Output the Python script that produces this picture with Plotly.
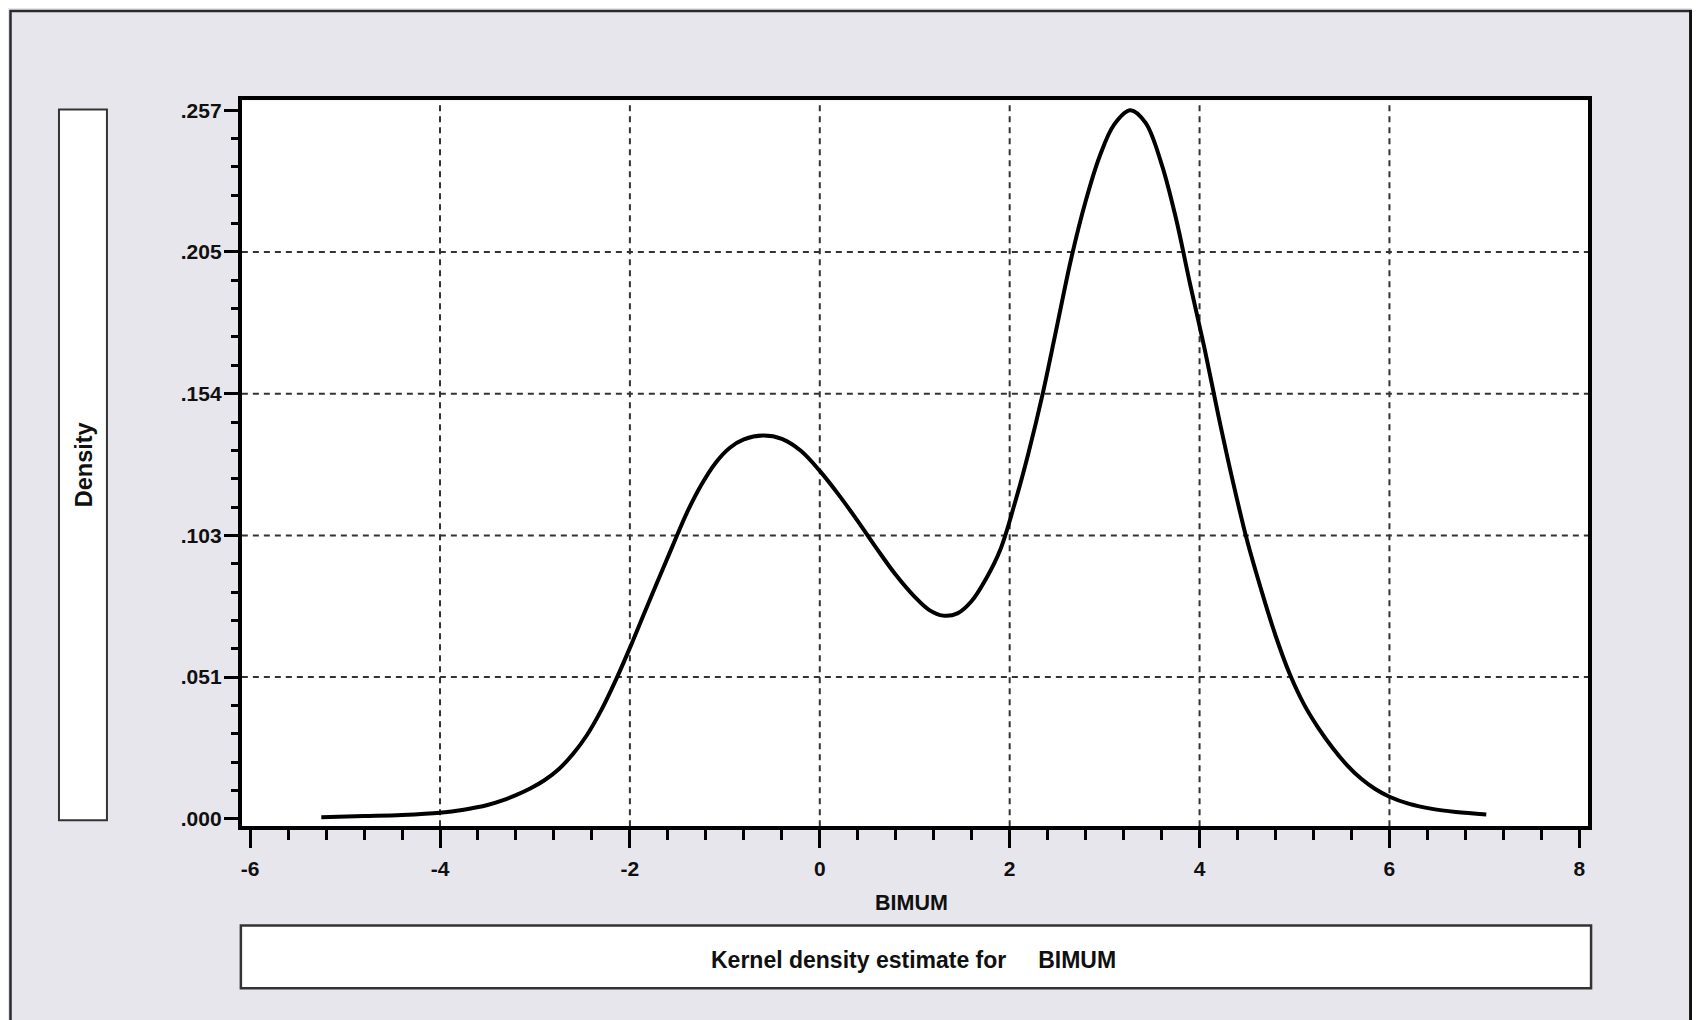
import plotly.graph_objects as go

# ---------------- data ----------------
x_vals = [-5.25, -4.8, -4.4, -4.0, -3.75, -3.5, -3.35, -3.2, -3.05, -2.9,
          -2.75, -2.6, -2.45, -2.3, -2.15, -2.0, -1.85, -1.7, -1.55, -1.4,
          -1.25, -1.1, -0.95, -0.8, -0.6, -0.4, -0.2, 0.0, 0.2, 0.4,
          0.6, 0.8, 1.0, 1.15, 1.3, 1.45, 1.6, 1.75, 1.9, 2.05,
          2.2, 2.35, 2.5, 2.65, 2.8, 2.95, 3.1, 3.27, 3.43, 3.6,
          3.75, 3.9, 4.05, 4.2, 4.35, 4.5, 4.65, 4.8, 4.95, 5.1,
          5.25, 5.4, 5.55, 5.7, 5.85, 6.0, 6.2, 6.45, 6.7, 7.02]
density = [0.0006, 0.0010, 0.0014, 0.0022, 0.0033, 0.0050, 0.0066, 0.0086, 0.0110, 0.0140,
           0.0180, 0.0235, 0.0305, 0.0395, 0.0502, 0.0620, 0.0745, 0.0868, 0.0990, 0.1110,
           0.1210, 0.1290, 0.1345, 0.1376, 0.1390, 0.1378, 0.1335, 0.1262, 0.1175, 0.1080,
           0.0980, 0.0885, 0.0805, 0.0758, 0.0737, 0.0745, 0.0790, 0.0870, 0.0975, 0.1140,
           0.1330, 0.1545, 0.1790, 0.2035, 0.2240, 0.2405, 0.2518, 0.2570, 0.2525, 0.2375,
           0.2180, 0.1940, 0.1710, 0.1460, 0.1225, 0.1010, 0.0830, 0.0665, 0.0525, 0.0415,
           0.0330, 0.0258, 0.0196, 0.0146, 0.0108, 0.0080, 0.0055, 0.0036, 0.0025, 0.0016]

x_tick_vals = [-6, -4, -2, 0, 2, 4, 6, 8]
x_tick_text = ["-6", "-4", "-2", "0", "2", "4", "6", "8"]
y_tick_vals = [0.0, 0.0514, 0.1028, 0.1542, 0.2056, 0.257]
y_tick_text = [".000", ".051", ".103", ".154", ".205", ".257"]
x_grid_vals = [-4, -2, 0, 2, 4, 6]
y_grid_vals = [0.0514, 0.1028, 0.1542, 0.2056]

x_label = "BIMUM"
y_label = "Density"
title_text = "Kernel density estimate for\u00a0\u00a0\u00a0\u00a0\u00a0BIMUM"

# ---------------- layout helpers ----------------
# The page body has an 8px margin, so the figure is offset by 8px; page
# coordinates are converted to figure coordinates by subtracting 8.
OFF = 8
W, H = 1700 - OFF, 1020 - OFF
FONT = "Liberation Sans, Arial, sans-serif"
TXT = "#101010"
BG = "#E8E6ED"


def fx(p):
    return (p - OFF) / W


def fy(p):
    return 1 - (p - OFF) / H


plot_l, plot_r, plot_t, plot_b = 241, 1588, 99, 829

fig = go.Figure()
fig.add_trace(go.Scatter(
    x=x_vals, y=density, mode="lines",
    line=dict(color="black", width=4, shape="spline", smoothing=1.0),
    hoverinfo="skip", showlegend=False,
))

shapes = []
# window frame
shapes.append(dict(type="rect", xref="paper", yref="paper",
                   x0=fx(9.5), x1=fx(1690.5), y0=-0.05, y1=fy(9),
                   line=dict(color="#2a2a2a", width=2.5), fillcolor="rgba(0,0,0,0)",
                   layer="below"))
shapes.append(dict(type="line", xref="paper", yref="paper",
                   x0=fx(1691), x1=fx(1691), y0=-0.05, y1=fy(8),
                   line=dict(color="#111111", width=3.5), layer="below"))
shapes.append(dict(type="rect", xref="paper", yref="paper",
                   x0=fx(1693.5), x1=fx(1702), y0=-0.05, y1=1.05,
                   line=dict(width=0), fillcolor="#A3A3A3", layer="below"))
# legend (y label) box
shapes.append(dict(type="rect", xref="paper", yref="paper",
                   x0=fx(58), x1=fx(106), y0=fy(823), y1=fy(108),
                   line=dict(color="#333333", width=2), fillcolor="white", layer="below"))
# title box
shapes.append(dict(type="rect", xref="paper", yref="paper",
                   x0=fx(240), x1=fx(1591), y0=fy(992), y1=fy(929),
                   line=dict(color="#333333", width=2.5), fillcolor="white", layer="below"))
# dashed grid (interior ticks only)
for gx in x_grid_vals:
    shapes.append(dict(type="line", xref="x", yref="paper", x0=gx, x1=gx,
                       y0=fy(plot_b), y1=fy(plot_t),
                       line=dict(color="#333333", width=2, dash="6px,5px"), layer="below"))
for gy in y_grid_vals:
    shapes.append(dict(type="line", xref="paper", yref="y", x0=fx(plot_l), x1=fx(plot_r),
                       y0=gy, y1=gy,
                       line=dict(color="#333333", width=2, dash="6px,5px"), layer="below"))

annotations = [
    dict(text=y_label, xref="paper", yref="paper", x=fx(83), y=fy(465),
         showarrow=False, textangle=-90, xanchor="center", yanchor="middle",
         font=dict(family=FONT, size=23.5, color=TXT, weight="bold")),
    dict(text=x_label, xref="paper", yref="paper", x=fx(911), y=fy(906),
         showarrow=False, xanchor="center", yanchor="middle",
         font=dict(family=FONT, size=21.5, color=TXT, weight="bold")),
    dict(text=title_text, xref="paper", yref="paper", x=fx(913), y=fy(964),
         showarrow=False, xanchor="center", yanchor="middle",
         font=dict(family=FONT, size=23, color=TXT, weight="bold")),
]

fig.update_layout(
    width=W, height=H,
    margin=dict(l=0, r=0, t=0, b=0),
    paper_bgcolor=BG, plot_bgcolor="white",
    shapes=shapes, annotations=annotations,
    showlegend=False,
    xaxis=dict(
        domain=[fx(plot_l), fx(plot_r)],
        range=[-6.087, 8.092],
        tickmode="array", tickvals=x_tick_vals, ticktext=x_tick_text,
        ticks="outside", ticklen=18, tickwidth=3, tickcolor="black",
        tickfont=dict(family=FONT, size=21, color=TXT, weight="bold"),
        ticklabelstandoff=3,
        showgrid=False, zeroline=False,
        showline=True, linecolor="black", linewidth=4, mirror=True,
        minor=dict(dtick=0.4, tick0=0, ticks="outside", ticklen=10, tickwidth=3,
                   tickcolor="black", showgrid=False),
        fixedrange=True,
    ),
    yaxis=dict(
        domain=[fy(plot_b), fy(plot_t)],
        range=[-0.00265, 0.26055],
        tickmode="array", tickvals=y_tick_vals, ticktext=y_tick_text,
        ticks="outside", ticklen=14, tickwidth=3, tickcolor="black",
        tickfont=dict(family=FONT, size=21, color=TXT, weight="bold"),
        ticklabelstandoff=-2,
        showgrid=False, zeroline=False,
        showline=True, linecolor="black", linewidth=4, mirror=True,
        minor=dict(dtick=0.01028, tick0=0, ticks="outside", ticklen=7, tickwidth=3,
                   tickcolor="black", showgrid=False),
        fixedrange=True,
    ),
)

fig.write_html("out.html", config={"displayModeBar": False})
